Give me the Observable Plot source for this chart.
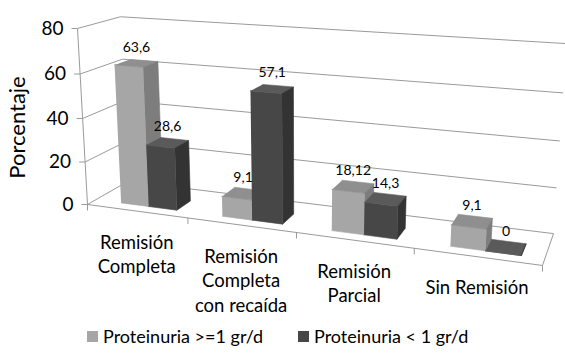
<!DOCTYPE html>
<html>
<head>
<meta charset="utf-8">
<script src="https://cdn.jsdelivr.net/npm/d3@7"></script>
<script src="https://cdn.jsdelivr.net/npm/@observablehq/plot@0.6"></script>
<style>
  body { margin: 0; background: #fff; font-family: Lato, sans-serif; }
  #chart svg { display: block; }
  #legend { position: relative; height: 41px; width: 565px; font-size: 18px; color: #000; }
  .item { position: absolute; top: 3px; display: flex; align-items: center; white-space: nowrap; }
  .sw { width: 11px; height: 11px; margin-right: 5px; }
</style>
</head>
<body>
<div id="chart"></div>
<div id="legend"></div>
<script>
// ---- data ----
const categories = ["Remisión\nCompleta", "Remisión\nCompleta\ncon recaída", "Remisión\nParcial", "Sin Remisión"];
const seriesNames = ["Proteinuria >=1 gr/d", "Proteinuria < 1 gr/d"];
const proteinuriaAlta = [63.6, 9.1, 18.12, 9.1];   // >= 1 gr/d
const proteinuriaBaja = [28.6, 57.1, 14.3, 0];     // < 1 gr/d
const yTicks = [0, 20, 40, 60, 80];
const yTitle = "Porcentaje";

// ---- styles ----
const colors = [
  {front: "#a6a6a6", top: "#8f8f8f", side: "#7d7d7d"},
  {front: "#474747", top: "#5a5a5a", side: "#333333"}
];
const gridColor = "#9a9a9a";
const W = 565, H = 322;

// ---- 3D perspective camera (world: X = category axis, Y = percent, Z = depth 0..1) ----
const P = [
  [93.37, -0.168, 49.85, 87],
  [5.28, -2.216, -10, 204],
  [-0.0376, -0.00056, 0.0732, 1]
];
function proj(X, Y, Z) {
  const w = P[2][0]*X + P[2][1]*Y + P[2][2]*Z + P[2][3];
  return [
    (P[0][0]*X + P[0][1]*Y + P[0][2]*Z + P[0][3]) / w,
    (P[1][0]*X + P[1][1]*Y + P[1][2]*Z + P[1][3]) / w
  ];
}

const nCat = categories.length;
const yMax = d3.max(yTicks);
const barW = 0.28, barOff = 0.26, z0 = 0.2, z1 = 0.57;

// walls, floor and axis lines
const segs = [];
function seg(a, b) { const p = proj(...a), q = proj(...b); segs.push({x1: p[0], y1: p[1], x2: q[0], y2: q[1]}); }
yTicks.forEach(t => { seg([0, t, 0], [0, t, 1]); seg([0, t, 1], [nCat, t, 1]); });
seg([0, 0, 0], [0, yMax, 0]);
seg([0, 0, 0], [nCat, 0, 0]);
seg([nCat, 0, 0], [nCat, 0, 1]);
const tickSegs = [];
d3.range(nCat + 1).forEach(i => { const p = proj(i, 0, 0); tickSegs.push({x1: p[0], y1: p[1], x2: p[0], y2: p[1] + 6}); });
yTicks.forEach(t => { const p = proj(0, t, 0); tickSegs.push({x1: p[0], y1: p[1], x2: p[0] - 6, y2: p[1]}); });

// bar faces
const faces = {0: {front: [], top: [], side: []}, 1: {front: [], top: [], side: []}};
const barLabels = [];
[proteinuriaAlta, proteinuriaBaja].forEach((vals, s) => {
  vals.forEach((v, i) => {
    const X0 = i + barOff + s * barW, X1 = X0 + barW;
    const poly = (name, pts) => pts.forEach(pt => { const p = proj(...pt); faces[s][name].push({id: `${s}-${i}-${name}`, x: p[0], y: p[1]}); });
    poly("front", [[X0, 0, z0], [X1, 0, z0], [X1, v, z0], [X0, v, z0]]);
    poly("top", [[X0, v, z0], [X1, v, z0], [X1, v, z1], [X0, v, z1]]);
    poly("side", [[X1, 0, z0], [X1, 0, z1], [X1, v, z1], [X1, v, z0]]);
    const c = proj((X0 + X1) / 2, v, (z0 + z1) / 2);
    barLabels.push({x: c[0], y: c[1], text: String(v).replace(".", ",")});
  });
});

const catLabels = categories.map((c, i) => { const p = proj(i + 0.5, 0, 0); return {x: p[0], y: p[1], text: c}; });
const yLabels = yTicks.map(t => { const p = proj(0, t, 0); return {x: p[0], y: p[1], text: String(t)}; });

const faceMarks = [];
[0, 1].forEach(s => ["front", "top", "side"].forEach(name => {
  faceMarks.push(Plot.line(faces[s][name], {x: "x", y: "y", z: "id", fill: colors[s][name], stroke: colors[s][name], strokeWidth: 0.6}));
}));

const chart = Plot.plot({
  width: W, height: H,
  margin: 0,
  style: {fontFamily: "Lato, sans-serif", background: "#fff", color: "#000"},
  x: {type: "linear", domain: [0, W], range: [0, W], axis: null},
  y: {type: "linear", domain: [0, H], range: [0, H], axis: null},
  marks: [
    Plot.link(segs, {x1: "x1", y1: "y1", x2: "x2", y2: "y2", stroke: gridColor, strokeWidth: 1}),
    Plot.link(tickSegs, {x1: "x1", y1: "y1", x2: "x2", y2: "y2", stroke: gridColor, strokeWidth: 1}),
    ...faceMarks,
    Plot.text(barLabels, {x: "x", y: "y", text: "text", dy: -16, fontSize: 14, fill: "#000"}),
    Plot.text(catLabels, {x: "x", y: "y", text: "text", lineAnchor: "top", dy: 20, fontSize: 18.5, lineHeight: 1.33, fill: "#000"}),
    Plot.text(yLabels, {x: "x", y: "y", text: "text", textAnchor: "end", dx: -14, fontSize: 19, fill: "#000"}),
    Plot.text([yTitle], {frameAnchor: "left", textAnchor: "middle", dx: 17, dy: -34, rotate: -90, fontSize: 22, fill: "#000"})
  ]
});
document.getElementById("chart").appendChild(chart);

// legend
const legend = document.getElementById("legend");
const legendLeft = [87, 298];
seriesNames.forEach((name, s) => {
  const item = document.createElement("div");
  item.className = "item";
  item.style.left = legendLeft[s] + "px";
  item.innerHTML = `<span class="sw" style="background:${colors[s].front}"></span><span>${name.replace("<", "&lt;").replace(">", "&gt;")}</span>`;
  legend.appendChild(item);
});
</script>
</body>
</html>
